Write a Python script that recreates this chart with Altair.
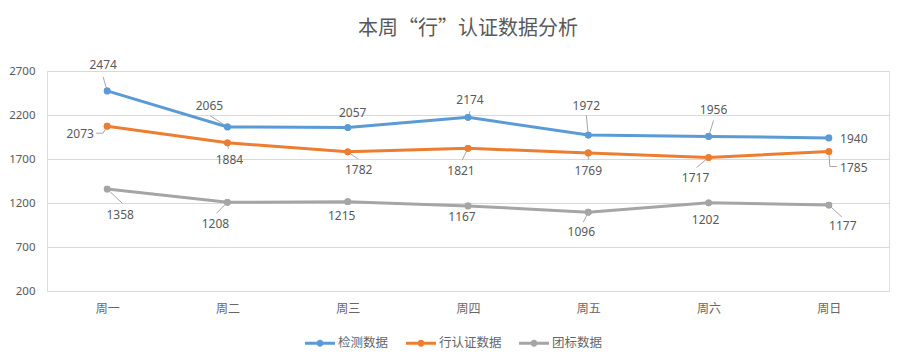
import altair as alt
import pandas as pd

# ---------------- data ----------------
days = ["周一", "周二", "周三", "周四", "周五", "周六", "周日"]
series_names = ["检测数据", "行认证数据", "团标数据"]
jiance = [2474, 2065, 2057, 2174, 1972, 1956, 1940]
xingrenzheng = [2073, 1884, 1782, 1821, 1769, 1717, 1785]
tuanbiao = [1358, 1208, 1215, 1167, 1096, 1202, 1177]
y_ticks = [200, 700, 1200, 1700, 2200, 2700]
colors = ["#5B9BD5", "#ED7D31", "#A5A5A5"]

# label placement (pixel offsets from the point) and leader-line vertices
label_off = {
    "检测数据": [(-4, -26), (-18, -21), (5, -15), (2, -17), (-2, -29), (5, -26), (25, 1)],
    "行认证数据": [(-27, 8), (2, 17), (11, 18), (-7, 23), (0, 18), (-13, 20), (25, 16)],
    "团标数据": [(13, 26), (-12, 22), (-6, 14), (-6, 11), (-7, 20), (-3, 17), (14, 21)],
}
leaders = {
    "检测数据": [[(-4, -14)], [(-17, -11)], [], [(2, -6)], [(-2, -20)], [(5, -16)], []],
    "行认证数据": [[(-4, 7), (-11, 7)], [(1, 6)], [(10, 7)], [(-6, 12)], [(0, 7)], [(-12, 10)],
               [(1, 15), (8, 15)]],
    "团标数据": [[(15, 14)], [(-11, 11)], [], [], [(-5, 10)], [], [(13, 12)]],
}

W, H = 842, 220
Y0, Y1 = 200, 2700
step = W / len(days)
ppu = H / (Y1 - Y0)

values = {"检测数据": jiance, "行认证数据": xingrenzheng, "团标数据": tuanbiao}

rows, lab_rows, lead_rows = [], [], []
for s in series_names:
    for i, v in enumerate(values[s]):
        rows.append({"idx": i, "value": v, "series": s})
        dx, dy = label_off[s][i]
        lab_rows.append({"tx": i + dx / step, "ty": v - dy / ppu, "text": str(v), "series": s})
        verts = leaders[s][i]
        if verts:
            pts = [(0, 0)] + verts
            for k, (vx, vy) in enumerate(pts):
                lead_rows.append({"lx": i + vx / step, "ly": v - vy / ppu,
                                  "lid": f"{s}-{i}", "ord": k})

df = pd.DataFrame(rows)
df_lab = pd.DataFrame(lab_rows)
df_lead = pd.DataFrame(lead_rows)

xscale = alt.Scale(domain=[-0.5, len(days) - 0.5], nice=False, zero=False)
yscale = alt.Scale(domain=[Y0, Y1], nice=False, zero=False)

label_expr = "[" + ",".join(f"'{d}'" for d in days) + "][datum.value]"

# custom symbol path in Vega's normalized [-1, 1] box: thick line with a dot
legend_path = ("M-1,-0.1H1V0.1H-1Z "
               "M0.23,0A0.23,0.23 0 1,1 -0.23,0A0.23,0.23 0 1,1 0.23,0Z")

color = alt.Color(
    "series:N",
    scale=alt.Scale(domain=series_names, range=colors),
    sort=series_names,
    legend=alt.Legend(
        orient="none", legendX=258, legendY=257, direction="horizontal", title=None,
        symbolType=legend_path, symbolSize=900, symbolStrokeWidth=0,
        labelFont="Noto Sans CJK SC", labelFontSize=12.5, labelColor="#666666",
        labelOffset=3, columnPadding=17, padding=0,
    ),
)

x_enc = alt.X("idx:Q", scale=xscale,
              axis=alt.Axis(values=list(range(len(days))), labelExpr=label_expr, grid=False,
                            domain=False, ticks=False, labelPadding=12, title=None,
                            labelFont="Noto Sans CJK SC", labelFontSize=12,
                            labelColor="#666666"))
y_enc = alt.Y("value:Q", scale=yscale,
              axis=alt.Axis(values=y_ticks, format="d", grid=True, gridColor="#D9D9D9",
                            gridWidth=1, domain=False, ticks=False, labelPadding=12,
                            title=None, labelFont="Noto Sans", labelFontSize=11.5,
                            labelColor="#595959"))

points = alt.Chart(df).mark_circle(size=45, opacity=1).encode(x=x_enc, y=y_enc, color=color)
lines = alt.Chart(df).mark_line(strokeWidth=3).encode(
    x=alt.X("idx:Q", scale=xscale), y=alt.Y("value:Q", scale=yscale), color=color)

lead = alt.Chart(df_lead).mark_line(color="#A6A6A6", strokeWidth=1).encode(
    x=alt.X("lx:Q", scale=xscale), y=alt.Y("ly:Q", scale=yscale),
    detail="lid:N", order="ord:Q")

labels = alt.Chart(df_lab).mark_text(font="Noto Sans", fontSize=12, color="#595959",
                                     align="center", baseline="middle").encode(
    x=alt.X("tx:Q", scale=xscale), y=alt.Y("ty:Q", scale=yscale), text="text:N")

chart = alt.layer(points, lead, lines, points, labels).properties(
    width=W, height=H,
    padding={"left": 39, "top": 63, "right": 3, "bottom": 60},
    autosize=alt.AutoSizeParams(type="none"),
    title=alt.Title("本周“行”认证数据分析", font="Noto Sans CJK SC", fontSize=20,
                    fontWeight="normal", color="#595959", anchor="middle", frame="group",
                    offset=20),
).configure_view(stroke=None).configure(background="white")

chart.save("out.html", embed_options={"renderer": "svg", "actions": False})
